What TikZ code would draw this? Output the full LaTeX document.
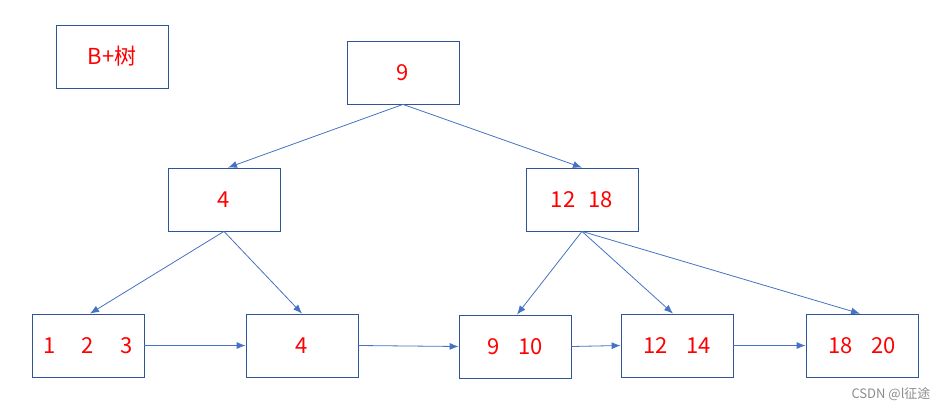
\documentclass[tikz,border=0pt]{standalone}
\usepackage{fontspec}
\setmainfont{Noto Sans CJK SC}
\usepackage{tikz}
\usetikzlibrary{arrows.meta}
\definecolor{boxblue}{RGB}{47,85,151}
\definecolor{linkblue}{RGB}{68,114,196}
\definecolor{keyred}{RGB}{255,0,0}
\tikzset{
  keybox/.style={draw=boxblue, thick, minimum width=112pt, minimum height=63pt,
    inner sep=0pt, text=keyred, font=\fontsize{22}{24}\selectfont},
  link/.style={draw=linkblue, -{Latex[length=9pt,width=7pt]}, line width=0.8pt}
}

\begin{document}
\begin{tikzpicture}[x=1pt, y=-1pt]
      \useasboundingbox (0,0) rectangle (948,410);
      % Title:
      \node[keybox] (title) at (112,56.5) {B+树};
      % Inner nodes:
      \node[keybox] (root) at (403,72.5) {9};
      \node[keybox] (left) at (224,199.5) {4};
      \node[keybox] (right) at (582,199.5) {12\hspace{0.6em}18};
      % Leaves:
      \node[keybox] (leafa) at (88,345.5) {1\hspace{1.2em}2\hspace{1.2em}3};
      \node[keybox] (leafb) at (302,345.5) {4};
      \node[keybox] (leafc) at (515,346.5) {9\hspace{0.85em}10};
      \node[keybox] (leafd) at (677,345.5) {12\hspace{0.85em}14};
      \node[keybox] (leafe) at (862,345.5) {18\hspace{0.85em}20};
      % Tree links:
      \draw[link] (root.south) -- ([xshift=4pt]left.north);
      \draw[link] (root.south) -- (right.north);
      \draw[link] (left.south) -- ([xshift=2pt]leafa.north);
      \draw[link] (left.south) -- (leafb.north);
      \draw[link] (right.south) -- ([xshift=2pt]leafc.north);
      \draw[link] (right.south) -- ([xshift=-4pt]leafd.north);
      \draw[link] (right.south) -- ([xshift=-2pt]leafe.north);
      % Leaf chain:
      \draw[link] (leafa.east) -- (leafb.west);
      \draw[link] (leafb.east) -- (leafc.west);
      \draw[link] (leafc.east) -- (leafd.west);
      \draw[link] (leafd.east) -- (leafe.west);
      % Watermark:
      \node[text=black!45, font=\fontsize{13}{15}\selectfont, anchor=east] (mark) at (934,394) {CSDN @l征途};
    \end{tikzpicture}
\end{document}
